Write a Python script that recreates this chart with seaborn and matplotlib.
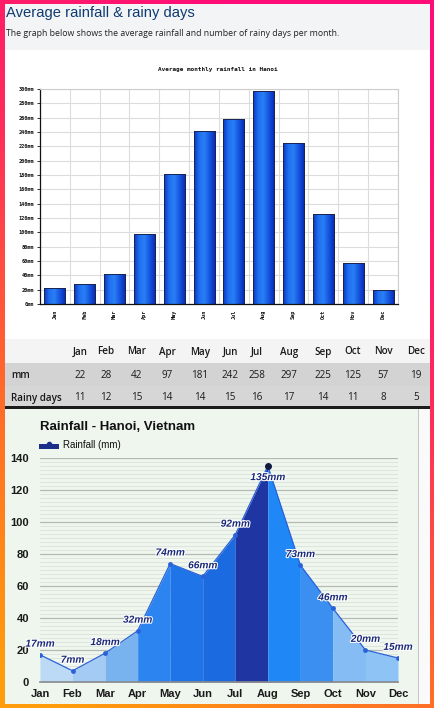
import numpy as np
import pandas as pd
import matplotlib
matplotlib.use('Agg')
import matplotlib.pyplot as plt
import seaborn as sns
from matplotlib.patches import Rectangle
from matplotlib.colors import LinearSegmentedColormap
import matplotlib.patheffects as pe

# ---------------- data ----------------
months = ['Jan', 'Feb', 'Mar', 'Apr', 'May', 'Jun', 'Jul', 'Aug', 'Sep', 'Oct', 'Nov', 'Dec']
rain_mm = [22, 28, 42, 97, 181, 242, 258, 297, 225, 125, 57, 19]
rainy_days = [11, 12, 15, 14, 14, 15, 16, 17, 14, 11, 8, 5]
bar_ticks = [0, 20, 40, 60, 80, 100, 120, 140, 160, 180, 200, 220, 240, 260, 280, 300]
area_mm = [17, 7, 18, 32, 74, 66, 92, 135, 73, 46, 20, 15]
area_ticks = [0, 20, 40, 60, 80, 100, 120, 140]
segment_colors = ['#bcdaf6', '#a3cbf3', '#78b3ef', '#2b84f0', '#1f74e8', '#1c6ae0',
                  '#1f35a2', '#1f88f6', '#3a8ff1', '#84bcf3', '#8ec4f5']

W, H = 435, 708
sns.set_theme(style='white')
plt.rcParams['font.family'] = ['Liberation Sans', 'DejaVu Sans']
fig = plt.figure(figsize=(W / 100, H / 100), dpi=100)


def px_axes(x0, y0, x1, y1, z):
    return fig.add_axes([x0 / W, 1 - y1 / H, (x1 - x0) / W, (y1 - y0) / H], zorder=z)


# ---------------- background canvas ----------------
bg = px_axes(0, 0, W, H, 0)
yy, xx = np.mgrid[0:H, 0:W]
t = np.clip(0.85 * yy / H + 0.35 * (1 - xx / W) - 0.15, 0, 1)
cmap = LinearSegmentedColormap.from_list('frame', ['#ff0c78', '#ff2a5c', '#ff6a2a', '#ff9c0c'])
bg.imshow(t, cmap=cmap, extent=(0, W, H, 0), aspect='auto', interpolation='bilinear')
bg.set_xlim(0, W)
bg.set_ylim(H, 0)
bg.axis('off')

# top section
bg.add_patch(Rectangle((5, 4), 425, 335, color='#ffffff', lw=0))
bg.add_patch(Rectangle((5, 4), 425, 46, color='#f3f4f6', lw=0))
bg.text(6, 13.5, 'Average rainfall & rainy days', fontsize=10.6, color='#0f3b70',
        va='center', ha='left', family=['Liberation Sans'])
bg.text(6, 33, 'The graph below shows the average rainfall and number of rainy days per month.',
        fontsize=6.35, color='#222222', va='center', ha='left', family=['Open Sans'])
bg.text(218, 70, 'Average monthly rainfall in Hanoi', fontsize=4.3, color='#111111',
        ha='center', va='center', family=['DejaVu Sans Mono'], fontweight='bold')

# table
bg.add_patch(Rectangle((5, 339), 425, 24, color='#f4f4f4', lw=0))
bg.add_patch(Rectangle((5, 363), 425, 23, color='#d3d3d3', lw=0))
bg.add_patch(Rectangle((5, 386), 425, 21, color='#d6d6d6', lw=0))
bg.add_patch(Rectangle((5, 406), 425, 2.5, color='#1c1c1c', lw=0))
col_x = [80, 106, 137, 167, 200, 230, 257, 289, 323, 353, 383, 416]
tfont = dict(fontsize=7.1, color='#1a1a1a', va='center', family=['Open Sans'])
for x, m, r, d in zip(col_x, months, rain_mm, rainy_days):
    bg.text(x, 352, m, ha='center', fontweight='semibold', **tfont)
    bg.text(x, 375, str(r), ha='center', **tfont)
    bg.text(x, 398, str(d), ha='center', **tfont)
bg.text(11, 375, 'mm', ha='left', fontweight='semibold', **tfont)
bg.text(11, 398, 'Rainy days', ha='left', fontweight='semibold', **tfont)

# bottom section panel
bg.add_patch(Rectangle((5, 409), 413, 295, color='#eef6ee', lw=0))
bg.add_patch(Rectangle((418, 409), 1.2, 295, color='#c4c4c4', lw=0))
bg.add_patch(Rectangle((419.2, 409), 10.8, 295, color='#fafafa', lw=0))
bg.text(40, 427, 'Rainfall - Hanoi, Vietnam', fontsize=9.5, fontweight='bold',
        color='#111111', ha='left', va='center')
bg.add_patch(Rectangle((39, 444), 20, 5, color='#1a2e8a', lw=0))
bg.plot([49], [444], marker='o', ms=3, color='#1a2e8a')
bg.text(63, 445, 'Rainfall (mm)', fontsize=7, color='#111111', ha='left', va='center')

# ---------------- bar chart ----------------
ax1 = px_axes(40, 89, 398, 304, 2)
df_bar = pd.DataFrame({'month': months, 'mm': rain_mm})
sns.barplot(data=df_bar, x='month', y='mm', ax=ax1, width=0.7, color='#1552dc',
            edgecolor='#1b2450', linewidth=0.7, saturation=1)
bar_cmap = LinearSegmentedColormap.from_list('bar', ['#0b36c4', '#1f6ff0', '#2a7ff4', '#1556e0', '#0a2fb8'])
grad = np.linspace(0, 1, 64).reshape(1, -1)
for p in ax1.patches:
    x0, y0 = p.get_x(), p.get_y()
    w, h = p.get_width(), p.get_height()
    im = ax1.imshow(grad, cmap=bar_cmap, extent=(x0, x0 + w, y0, y0 + h),
                    aspect='auto', zorder=p.get_zorder() + 0.1)
    im.set_clip_path(p)
    ax1.add_patch(Rectangle((x0, y0), w, h, fill=False, edgecolor='#1b2450',
                            lw=0.7, zorder=p.get_zorder() + 0.2))
ax1.set_xlim(-0.5, 11.5)
ax1.set_ylim(0, 300)
ax1.set_yticks(bar_ticks)
ax1.set_yticklabels([f'{v}mm' for v in bar_ticks], family='DejaVu Sans Mono',
                    fontsize=3.8, fontweight='bold')
ax1.set_xticks(range(12))
ax1.set_xticklabels(months, rotation=90, family='DejaVu Sans Mono', fontsize=3.8,
                    fontweight='bold')
ax1.set_xticks(np.arange(-0.5, 12, 1), minor=True)
ax1.grid(axis='y', which='major', color='#dcdcdc', lw=0.8)
ax1.grid(axis='x', which='minor', color='#dcdcdc', lw=0.8)
ax1.set_axisbelow(True)
ax1.tick_params(axis='both', which='major', length=2, width=0.6, pad=2, colors='#111111')
ax1.tick_params(axis='x', which='minor', length=0)
ax1.tick_params(axis='y', which='major', left=True)
ax1.tick_params(axis='x', which='major', bottom=False)
ax1.set_xlabel('')
ax1.set_ylabel('')
for s in ['top', 'right']:
    ax1.spines[s].set_color('#cccccc')
    ax1.spines[s].set_linewidth(0.8)
for s in ['left', 'bottom']:
    ax1.spines[s].set_color('#111111')
    ax1.spines[s].set_linewidth(0.9)
ax1.set_facecolor('white')

# ---------------- area chart ----------------
ax2 = px_axes(40, 458, 398, 682, 2)
ax2.patch.set_alpha(0)
xs = np.arange(12)
for i in range(11):
    ax2.fill_between([xs[i], xs[i + 1]], [area_mm[i], area_mm[i + 1]], 0,
                     color=segment_colors[i], lw=0, zorder=2)
sns.lineplot(x=xs, y=area_mm, ax=ax2, color='#2a62d8', lw=0.9, marker='o',
             markersize=3.5, markeredgewidth=0, zorder=3)
for i, v in enumerate(area_mm):
    if i == 7:
        ax2.plot(xs[i], v, marker='o', ms=4, color='#111a40', zorder=4, clip_on=False)
        off = -8
    else:
        off = 8
    ax2.annotate(f'{v}mm', (xs[i], v), xytext=(0, off), textcoords='offset points',
                 ha='center', va='center', fontsize=7.3, fontweight='bold', style='italic',
                 color='#1b2a78', zorder=5, annotation_clip=False,
                 path_effects=[pe.withStroke(linewidth=1.5, foreground='white')])
ax2.set_xlim(0, 11)
ax2.set_ylim(0, 140)
ax2.set_yticks(area_ticks)
ax2.set_yticks(np.arange(0, 140.1, 2.5), minor=True)
ax2.grid(axis='y', which='minor', color='#d6dcd6', lw=0.5)
ax2.grid(axis='y', which='major', color='#b4b9b4', lw=0.9)
ax2.grid(axis='x', visible=False)
ax2.set_axisbelow(True)
ax2.set_xticks(xs)
ax2.set_xticklabels(months, fontsize=8, fontweight='bold', color='#1a1a1a')
ax2.set_yticklabels([str(v) for v in area_ticks], fontsize=8, fontweight='bold', color='#1a1a1a')
ax2.tick_params(axis='both', which='both', length=0)
ax2.tick_params(axis='x', pad=5)
ax2.tick_params(axis='y', pad=8)
ax2.set_xlabel('')
ax2.set_ylabel('')
for s in ['top', 'right', 'left']:
    ax2.spines[s].set_visible(False)
ax2.spines['bottom'].set_color('#8a8a8a')
ax2.spines['bottom'].set_linewidth(1.2)

fig.savefig('out.png', dpi=100)
